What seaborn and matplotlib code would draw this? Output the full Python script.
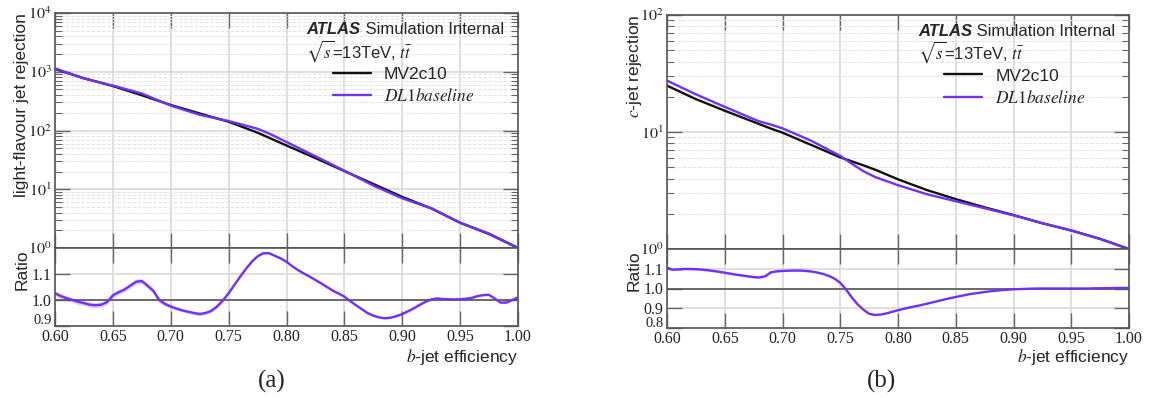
import numpy as np
import pandas as pd
import matplotlib
matplotlib.use("Agg")
import matplotlib.pyplot as plt
from matplotlib.ticker import LogLocator, NullFormatter, FixedLocator
from matplotlib.lines import Line2D
import seaborn as sns

# ---------------- data ----------------
eff_a = [0.600, 0.625, 0.650, 0.675, 0.700, 0.725, 0.750, 0.775, 0.785, 0.800,
         0.825, 0.850, 0.875, 0.900, 0.925, 0.950, 0.975, 1.000]
light_mv2c10 = [1114, 776, 571, 398, 272, 195, 141, 91.8, 75.2, 55.6,
                33.9, 20.4, 12.3, 7.41, 4.73, 2.69, 1.73, 1.0]
light_dl1 = [1143, 767, 581, 427, 265, 185, 145, 107, 88.7, 63.8,
             36.5, 20.7, 11.56, 7.01, 4.74, 2.70, 1.76, 1.01]

eff_b = [0.600, 0.625, 0.650, 0.675, 0.680, 0.690, 0.700, 0.725, 0.750, 0.760,
         0.770, 0.780, 0.800, 0.825, 0.850, 0.875, 0.900, 0.925, 0.950, 0.975, 1.000]
c_mv2c10 = [24.9, 19.1, 15.2, 12.2, 11.67, 10.69, 9.87, 7.74, 6.07, 5.61,
            5.19, 4.77, 3.94, 3.19, 2.67, 2.27, 1.95, 1.66, 1.44, 1.22, 1.0]
c_dl1 = [27.5, 21.0, 16.4, 12.9, 12.32, 11.57, 10.75, 8.41, 6.25, 5.36,
         4.63, 4.13, 3.51, 2.94, 2.56, 2.23, 1.94, 1.66, 1.44, 1.22, 1.0]

ratio_eff = np.round(np.arange(0.600, 1.0001, 0.005), 3)
ratio_a = [1.026, 1.015, 1.007, 1.000, 0.993, 0.988, 0.982, 0.980, 0.982, 0.992,
           1.018, 1.030, 1.040, 1.055, 1.070, 1.073, 1.055, 1.035, 1.000, 0.985,
           0.975, 0.967, 0.960, 0.955, 0.950, 0.946, 0.950, 0.958, 0.975, 0.998,
           1.026, 1.058, 1.090, 1.120, 1.147, 1.168, 1.180, 1.180, 1.170, 1.160,
           1.147, 1.130, 1.115, 1.102, 1.090, 1.077, 1.064, 1.050, 1.036, 1.025,
           1.013, 0.996, 0.980, 0.965, 0.950, 0.940, 0.933, 0.930, 0.932, 0.938,
           0.946, 0.957, 0.968, 0.981, 0.993, 1.002, 1.006, 1.004, 1.003, 1.002,
           1.003, 1.005, 1.008, 1.015, 1.019, 1.020, 1.005, 0.990, 0.990, 1.000,
           1.010]
ratio_a_err = [0.010] * 20 + [0.007] * 10 + [0.004] * 51
ratio_b = [1.106, 1.095, 1.097, 1.099, 1.099, 1.098, 1.096, 1.093, 1.089, 1.085,
           1.080, 1.075, 1.070, 1.066, 1.062, 1.058, 1.056, 1.062, 1.082, 1.087,
           1.089, 1.090, 1.091, 1.091, 1.089, 1.086, 1.081, 1.074, 1.064, 1.050,
           1.029, 0.995, 0.955, 0.920, 0.893, 0.872, 0.866, 0.868, 0.874, 0.882,
           0.890, 0.897, 0.904, 0.910, 0.916, 0.923, 0.930, 0.937, 0.944, 0.951,
           0.957, 0.963, 0.969, 0.974, 0.978, 0.982, 0.986, 0.989, 0.992, 0.994,
           0.996, 0.997, 0.998, 0.999, 1.000, 1.000, 1.000, 1.000, 1.000, 1.000,
           1.000, 1.000, 1.000, 1.000, 1.001, 1.001, 1.002, 1.002, 1.003, 1.003,
           1.003]
ratio_b_err = [0.006] * 20 + [0.004] * 10 + [0.002] * 51

x_ticks = [0.60, 0.65, 0.70, 0.75, 0.80, 0.85, 0.90, 0.95, 1.00]
x_ticklabels = ["0.60", "0.65", "0.70", "0.75", "0.80", "0.85", "0.90", "0.95", "1.00"]

# ---------------- style ----------------
sns.set_theme(style="ticks")
plt.rcParams["font.family"] = ["Liberation Sans", "DejaVu Sans"]
plt.rcParams["mathtext.fontset"] = "stix"

BLACK = "#111111"
PURPLE = "#7330f5"
SPINE = "#555555"
GRID = "#d9d9d9"
W, H = 1150, 398

fig = plt.figure(figsize=(W / 100, H / 100), dpi=100)


def fr(x0, y0, x1, y1):
    return [x0 / W, 1 - y1 / H, (x1 - x0) / W, (y1 - y0) / H]


def style_axes(ax):
    for s in ax.spines.values():
        s.set_color(SPINE)
        s.set_linewidth(1.2)
    ax.tick_params(which="both", direction="in", top=True, right=True,
                   color="#666666", labelfontfamily="Liberation Serif",
                   labelsize=11.5, labelcolor="#222222")
    ax.tick_params(which="major", length=11, width=1.0, pad=2.5)
    ax.tick_params(which="minor", length=5, width=0.8)
    ax.set_axisbelow(True)


def panel(main_box, ratio_box, eff, mv, dl1, r, rerr, ymax, yticklabels,
          rlim, rticks, ylabel, caption, cap_x, low_shift):
    ax = fig.add_axes(fr(*main_box))
    axr = fig.add_axes(fr(*ratio_box), sharex=ax)

    df = pd.DataFrame({"eff": eff * 2,
                       "rej": mv + dl1,
                       "tagger": ["MV2c10"] * len(eff) + ["DL1"] * len(eff)})
    sns.lineplot(data=df, x="eff", y="rej", hue="tagger",
                 palette={"MV2c10": BLACK, "DL1": PURPLE},
                 estimator=None, sort=False, lw=1.7, ax=ax, legend=False)
    ax.set_yscale("log")
    ax.set_xlim(0.6, 1.0)
    ax.set_ylim(1, ymax)
    decs = [10 ** i for i in range(len(yticklabels))]
    ax.yaxis.set_major_locator(FixedLocator(decs))
    ax.set_yticklabels(yticklabels)
    ax.yaxis.set_minor_locator(LogLocator(base=10, subs=np.arange(2, 10)))
    ax.yaxis.set_minor_formatter(NullFormatter())
    ax.set_xticks(x_ticks)
    ax.tick_params(axis="x", labelbottom=False)
    style_axes(ax)
    ax.grid(True, which="major", axis="both", color=GRID, lw=1.2)
    ax.grid(True, which="minor", axis="y", color="#e4e4e4", lw=0.7, ls="--")
    ax.set_xlabel("")
    ax.set_ylabel("")

    # ratio
    rdf = pd.DataFrame({"eff": ratio_eff, "ratio": r})
    lo = np.array(r) - np.array(rerr)
    hi = np.array(r) + np.array(rerr)
    axr.fill_between(ratio_eff, lo, hi, color=PURPLE, alpha=0.22, lw=0)
    axr.axhline(1.0, color=SPINE, lw=1.2, zorder=1)
    sns.lineplot(data=rdf, x="eff", y="ratio", color=PURPLE, lw=1.7,
                 estimator=None, ax=axr)
    axr.set_ylim(*rlim)
    axr.set_yticks(rticks)
    # lowest ratio label is drawn separately, lifted clear of "0.60"
    axr.set_yticklabels([""] + [f"{t:.1f}" for t in rticks[1:]])
    axr.annotate(f"{rticks[0]:.1f}", xy=(0, rticks[0]),
                 xycoords=axr.get_yaxis_transform(),
                 xytext=(-2.5, low_shift), textcoords="offset points",
                 ha="right", va="center", fontsize=10.5,
                 family="Liberation Serif", color="#222222")
    axr.set_xticks(x_ticks)
    axr.set_xticklabels(x_ticklabels)
    style_axes(axr)
    axr.grid(True, which="major", axis="both", color=GRID, lw=1.2)
    axr.set_xlabel("")
    axr.set_ylabel("")

    # texts
    tx = 0.543
    t1 = ax.text(tx, 0.897, "ATLAS", transform=ax.transAxes, fontsize=12,
                 fontstyle="italic", fontweight="bold", va="bottom", ha="left")
    ax.annotate(" Simulation Internal", xy=(1, 0), xycoords=t1, fontsize=12,
                va="bottom", ha="left")
    ax.text(tx, 0.812, r"$\sqrt{s}$=13TeV, $t\bar{t}$", transform=ax.transAxes,
            fontsize=12, va="baseline", ha="left")
    handles = [Line2D([], [], color=BLACK, lw=1.7),
               Line2D([], [], color=PURPLE, lw=1.7)]
    ax.legend(handles, ["MV2c10", r"$DL1baseline$"], loc="upper left",
              bbox_to_anchor=(0.60, 0.772), frameon=False, fontsize=12.5,
              handlelength=2.2, handletextpad=0.75, labelspacing=0.3,
              borderpad=0, borderaxespad=0)

    x0, y0, x1, y1 = main_box
    fig.text((x0 - 33) / W, 1 - y0 / H, ylabel, rotation=90, ha="center",
             va="top", fontsize=12.5)
    rx0, ry0, rx1, ry1 = ratio_box
    fig.text((rx0 - 33) / W, 1 - (ry0 + 1) / H, "Ratio", rotation=90,
             ha="center", va="top", fontsize=12.5)
    fig.text(rx1 / W, 1 - 357 / H, r"$b$-jet efficiency", ha="right",
             va="center", fontsize=12.5)
    fig.text(cap_x / W, 1 - 381 / H, caption, ha="center", va="center",
             fontsize=18, family="Liberation Serif")
    return ax, axr


axA, axAr = panel((55, 13, 518, 248), (55, 248, 518, 326),
                  eff_a, light_mv2c10, light_dl1, ratio_a, ratio_a_err,
                  1e4, [r"$10^{0}$", r"$10^{1}$", r"$10^{2}$", r"$10^{3}$", r"$10^{4}$"],
                  (0.9, 1.2), [0.9, 1.0, 1.1], "light-flavour jet rejection",
                  "(a)", 272, 4.0)
axB, axBr = panel((667, 15, 1129, 249), (667, 249, 1129, 328),
                  eff_b, c_mv2c10, c_dl1, ratio_b, ratio_b_err,
                  1e2, [r"$10^{0}$", r"$10^{1}$", r"$10^{2}$"],
                  (0.8, 1.2), [0.8, 0.9, 1.0, 1.1], r"$c$-jet rejection",
                  "(b)", 882, 3.5)

fig.savefig("out.png", dpi=100)
